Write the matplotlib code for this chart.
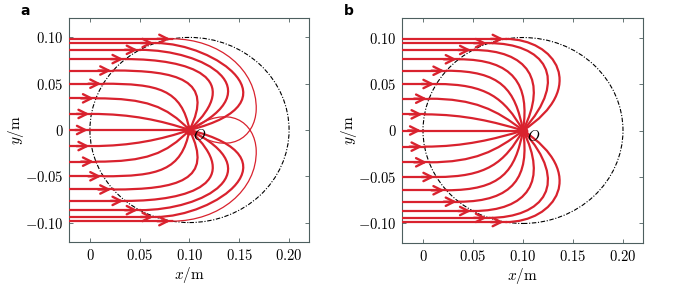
import numpy as np
import matplotlib
matplotlib.use("Agg")
import matplotlib.pyplot as plt
from matplotlib.path import Path
from matplotlib.patches import PathPatch, Circle

plt.rcParams['mathtext.fontset'] = 'cm'

RED = '#d9222e'

# entry angles (deg) on the circle, upper half; lower half is mirrored
theta = [0, 10, 20, 30, 40, 50, 60, 70, 80]

# panel a: arrival direction at O (deg), horizontal pull, arrival pull
phi_a = [180, 160, 132, 100, 65, 45, 28, 15]
h_a = [0.0, 0.04, 0.05, 0.055, 0.065, 0.065, 0.065, 0.06]
k_a = [0.0, 0.03, 0.035, 0.045, 0.06, 0.08, 0.095, 0.115]
# panel a, outermost thin line: bezier points after the entry (x, y)
loop_a = [(0.13, 0.0985), (0.168, 0.065), (0.167, 0.022),
          (0.166, -0.008), (0.14, -0.03), (0.1, 0.0)]

# panel b
phi_b = [180, 162, 140, 118, 100, 82, 65, 50, 35]
h_b = [0.0, 0.04, 0.045, 0.05, 0.055, 0.055, 0.055, 0.055, 0.05]
k_b = [0.0, 0.03, 0.035, 0.04, 0.045, 0.05, 0.06, 0.075, 0.08]

xticks = [0, 0.05, 0.10, 0.15, 0.20]
xtick_labels = ['0', '0.05', '0.10', '0.15', '0.20']
yticks = [-0.10, -0.05, 0, 0.05, 0.10]
ytick_labels = ['-0.10', '-0.05', '0', '0.05', '0.10']

R = 0.1
OX, OY = 0.1, 0.0
XMIN, XMAX = -0.021, 0.22


def bez(ax, pts, lw):
    codes = [Path.MOVETO] + [Path.CURVE4] * (len(pts) - 1)
    ax.add_patch(PathPatch(Path(pts, codes), fc='none', ec=RED, lw=lw,
                           capstyle='round', zorder=3))


def entry_line(ax, th, sgn):
    t = np.radians(th)
    x0 = OX - R * np.cos(t)
    y0 = sgn * R * np.sin(t)
    ax.plot([XMIN, x0], [y0, y0], color=RED, lw=1.6, zorder=3)
    ax.annotate('', xy=(x0 - 0.002, y0), xytext=(x0 - 0.015, y0),
                arrowprops=dict(arrowstyle='->,head_length=0.6,head_width=0.3',
                                color=RED, lw=1.7, mutation_scale=10,
                                shrinkA=0, shrinkB=0),
                zorder=4)
    return x0, y0


def panel(ax, phi, h, k, loop=None):
    ax.add_patch(Circle((OX, OY), R, fill=False, ec='black', lw=0.8,
                        ls=(0, (4, 1.5, 1, 1.5)), zorder=2))
    n = len(phi)
    for i in range(len(theta)):
        for sgn in ([1] if theta[i] == 0 else [1, -1]):
            x0, y0 = entry_line(ax, theta[i], sgn)
            if i >= n:
                if loop is not None:
                    pts = [(x0, y0)] + [(px, sgn * py) for px, py in loop]
                    bez(ax, pts, 0.9)
                continue
            if theta[i] == 0:
                ax.plot([x0, OX], [0, 0], color=RED, lw=1.6, zorder=3)
                continue
            p = np.radians(phi[i])
            pts = [(x0, y0), (x0 + h[i], y0),
                   (OX + k[i] * np.cos(p), sgn * k[i] * np.sin(p)), (OX, OY)]
            bez(ax, pts, 1.6)
    ax.plot(OX, OY, 'o', color=RED, ms=6, zorder=5)
    ax.text(OX + 0.004, -0.006, '$O$', fontsize=11, va='center', zorder=6)

    ax.set_xlim(XMIN, XMAX)
    ax.set_ylim(-0.121, 0.121)
    ax.set_xticks(xticks)
    ax.set_xticklabels(['$' + s + '$' for s in xtick_labels])
    ax.set_yticks(yticks)
    ax.set_yticklabels(['$' + s + '$' for s in ytick_labels])
    ax.tick_params(direction='in', length=3, width=0.6, top=True, right=True,
                   labelsize=10.5, color='#4d5f5f', pad=4)
    for s in ax.spines.values():
        s.set_color('#4d5f5f')
        s.set_linewidth(0.8)
    ax.set_xlabel(r'$x/\mathrm{m}$', fontsize=11, labelpad=2)
    ax.set_ylabel(r'$y/\mathrm{m}$', fontsize=11, labelpad=-1)


fig = plt.figure(figsize=(6.74, 2.90), dpi=100)
ax1 = fig.add_axes([69 / 674, 48 / 290, 240 / 674, 224 / 290])
ax2 = fig.add_axes([402 / 674, 47 / 290, 241 / 674, 225 / 290])

panel(ax1, phi_a, h_a, k_a, loop=loop_a)
panel(ax2, phi_b, h_b, k_b)

fig.text(20 / 674, 1 - 11 / 290, 'a', fontsize=10, fontweight='bold',
         family='DejaVu Sans', va='center')
fig.text(344 / 674, 1 - 11 / 290, 'b', fontsize=10, fontweight='bold',
         family='DejaVu Sans', va='center')

fig.savefig('out.png', dpi=100)
